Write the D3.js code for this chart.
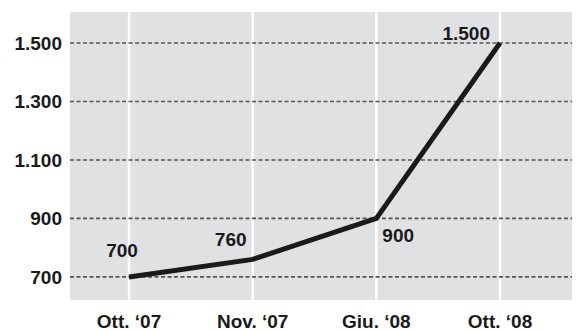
<!DOCTYPE html>
<html>
<head>
<meta charset="utf-8">
<script src="https://cdn.jsdelivr.net/npm/d3@7"></script>
<style>
  body { margin: 0; background: #fff; }
  text { font-family: "Liberation Sans", Arial, sans-serif; font-weight: bold; fill: #1a1a1a; }
</style>
</head>
<body>
<svg id="chart" width="582" height="332"></svg>
<script>
// data
const months = ["Ott. \u201807", "Nov. \u201807", "Giu. \u201808", "Ott. \u201808"];
const values = [700, 760, 900, 1500];
const yTicks = [700, 900, 1100, 1300, 1500];

// label placement around each point (dx, dy, anchor)
const labelPos = [
        [-7, -20, "middle"],
        [-22, -13, "middle"],
        [6, 24, "start"],
        [-10, -3, "end"]
];

const svg = d3.select("#chart");
const plot = { left: 70, right: 572, top: 12, bottom: 300 };

const x = d3.scalePoint()
        .domain(months)
        .range([129, 500]);

const y = d3.scaleLinear()
        .domain([621, 1606])
        .range([plot.bottom, plot.top]);

const fmt = d => d3.format(",")(d).replace(/,/g, ".");

// grey background
svg.append("rect")
        .attr("x", plot.left)
        .attr("y", plot.top)
        .attr("width", plot.right - plot.left)
        .attr("height", plot.bottom - plot.top)
        .attr("fill", "#e0e1e3");

// white vertical lines
svg.selectAll(".vline")
        .data(months)
        .enter().append("line")
        .attr("x1", d => x(d))
        .attr("x2", d => x(d))
        .attr("y1", plot.top)
        .attr("y2", plot.bottom)
        .attr("stroke", "#fff")
        .attr("stroke-width", 2.5);

// dashed horizontal grid
svg.selectAll(".hline")
        .data(yTicks)
        .enter().append("line")
        .attr("x1", plot.left)
        .attr("x2", plot.right)
        .attr("y1", d => y(d))
        .attr("y2", d => y(d))
        .attr("stroke", "#555")
        .attr("stroke-width", 1.6)
        .attr("stroke-dasharray", "4,2.5");

// y labels
svg.selectAll(".ylab")
        .data(yTicks)
        .enter().append("text")
        .attr("x", 62)
        .attr("y", d => y(d) + 7)
        .attr("text-anchor", "end")
        .attr("font-size", "19px")
        .text(fmt);

// x labels
svg.selectAll(".xlab")
        .data(months)
        .enter().append("text")
        .attr("x", d => x(d))
        .attr("y", 328)
        .attr("text-anchor", "middle")
        .attr("font-size", "19px")
        .text(d => d);

// the line
const line = d3.line()
        .x((d, i) => x(months[i]))
        .y(d => y(d));

svg.append("path")
        .datum(values)
        .attr("d", line)
        .attr("fill", "none")
        .attr("stroke", "#1a1a1a")
        .attr("stroke-width", 5)
        .attr("stroke-linejoin", "miter");

// value labels
svg.selectAll(".vlab")
        .data(values)
        .enter().append("text")
        .attr("x", (d, i) => x(months[i]) + labelPos[i][0])
        .attr("y", (d, i) => y(d) + labelPos[i][1])
        .attr("text-anchor", (d, i) => labelPos[i][2])
        .attr("font-size", "19px")
        .text(fmt);
</script>
</body>
</html>
